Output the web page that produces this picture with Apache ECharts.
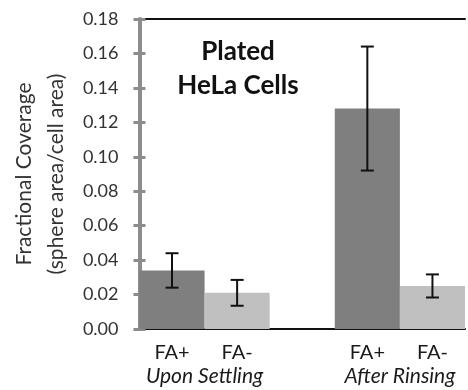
<!DOCTYPE html>
<html>
<head>
<meta charset="utf-8">
<script src="https://cdn.jsdelivr.net/npm/echarts@6/dist/echarts.min.js"></script>
<style>
  html, body { margin: 0; padding: 0; background: #fff; }
  #chart { width: 468px; height: 390px; }
</style>
</head>
<body>
<div id="chart"></div>
<script>
// bar slots, the empty one separates the two conditions
const categories = ["FA+", "FA-", "", "FA+", "FA-"];
const groupLabels = ["Upon Settling", "After Rinsing"];
const groupPositions = [1, 4];
const means = [0.034, 0.021, null, 0.128, 0.025];
const errors = [0.010, 0.0075, null, 0.036, 0.0067];
const barColors = ["#7f7f7f", "#c0c0c0", "#ffffff", "#7f7f7f", "#c0c0c0"];

const FONT = "Lato";
const chart = echarts.init(document.getElementById("chart"));

const errorData = means
  .map((m, i) => (m == null ? null : [i, m - errors[i], m + errors[i]]))
  .filter((d) => d);

const option = {
  animation: false,
  textStyle: { fontFamily: FONT },
  title: {
    text: "Plated\nHeLa Cells",
    left: 233,
    top: 30,
    textAlign: "center",
    textStyle: { fontFamily: FONT, fontSize: 26, fontWeight: "bold", color: "#111", lineHeight: 34 },
  },
  grid: { left: 131, right: 0, top: 19, bottom: 61 },
  xAxis: [
    {
      type: "category",
      data: categories,
      position: "bottom",
      axisLine: { lineStyle: { color: "#111", width: 2 } },
      axisTick: { show: false },
      axisLabel: { fontSize: 20, color: "#1a1a1a", margin: 14, interval: 0 },
      splitLine: { show: false },
    },
    {
      type: "value",
      min: 0,
      max: categories.length,
      interval: 1,
      position: "bottom",
      axisLine: { show: false },
      axisTick: { show: false },
      splitLine: { show: false },
      axisLabel: {
        fontSize: 21,
        fontStyle: "italic",
        color: "#1a1a1a",
        margin: 37,
        showMinLabel: true,
        showMaxLabel: true,
        formatter: (v) => {
          const k = groupPositions.indexOf(Math.round(v));
          return k >= 0 ? groupLabels[k] : "";
        },
      },
    },
    {
      type: "category",
      data: categories,
      position: "top",
      axisLine: { lineStyle: { color: "#111", width: 2 } },
      axisTick: { show: false },
      axisLabel: { show: false },
    },
  ],
  yAxis: [
    {
      type: "value",
      min: 0,
      max: 0.18,
      interval: 0.02,
      name: "Fractional Coverage\n(sphere area/cell area)",
      nameLocation: "middle",
      nameGap: 64,
      nameTextStyle: { fontSize: 21, color: "#333", lineHeight: 32 },
      axisLine: { show: true, lineStyle: { color: "#8c8c8c", width: 4 } },
      axisTick: { show: true, length: 6, lineStyle: { color: "#8c8c8c", width: 3 } },
      axisLabel: { fontSize: 18, color: "#333", margin: 21, formatter: (v) => v.toFixed(2) },
      splitLine: { show: false },
    },
    {
      type: "value",
      min: 0,
      max: 0.18,
      interval: 0.02,
      position: "left",
      axisLine: { show: false },
      axisTick: { show: true, inside: true, length: 6, lineStyle: { color: "#8c8c8c", width: 3 } },
      axisLabel: { show: false },
      splitLine: { show: false },
    },
  ],
  series: [
    {
      type: "bar",
      xAxisIndex: 0,
      yAxisIndex: 0,
      barWidth: "100%",
      data: means.map((v, i) => ({ value: v, itemStyle: { color: barColors[i] } })),
      z: 2,
    },
    {
      type: "custom",
      xAxisIndex: 0,
      yAxisIndex: 0,
      data: errorData,
      z: 5,
      renderItem: (params, api) => {
        const x = api.value(0);
        const lo = api.coord([x, api.value(1)]);
        const hi = api.coord([x, api.value(2)]);
        const cap = 6.5;
        const style = { stroke: "#111", lineWidth: 2 };
        return {
          type: "group",
          children: [
            { type: "line", shape: { x1: hi[0], y1: hi[1], x2: lo[0], y2: lo[1] }, style },
            { type: "line", shape: { x1: hi[0] - cap, y1: hi[1], x2: hi[0] + cap, y2: hi[1] }, style },
            { type: "line", shape: { x1: lo[0] - cap, y1: lo[1], x2: lo[0] + cap, y2: lo[1] }, style },
          ],
        };
      },
    },
  ],
};

chart.setOption(option);
</script>
</body>
</html>
